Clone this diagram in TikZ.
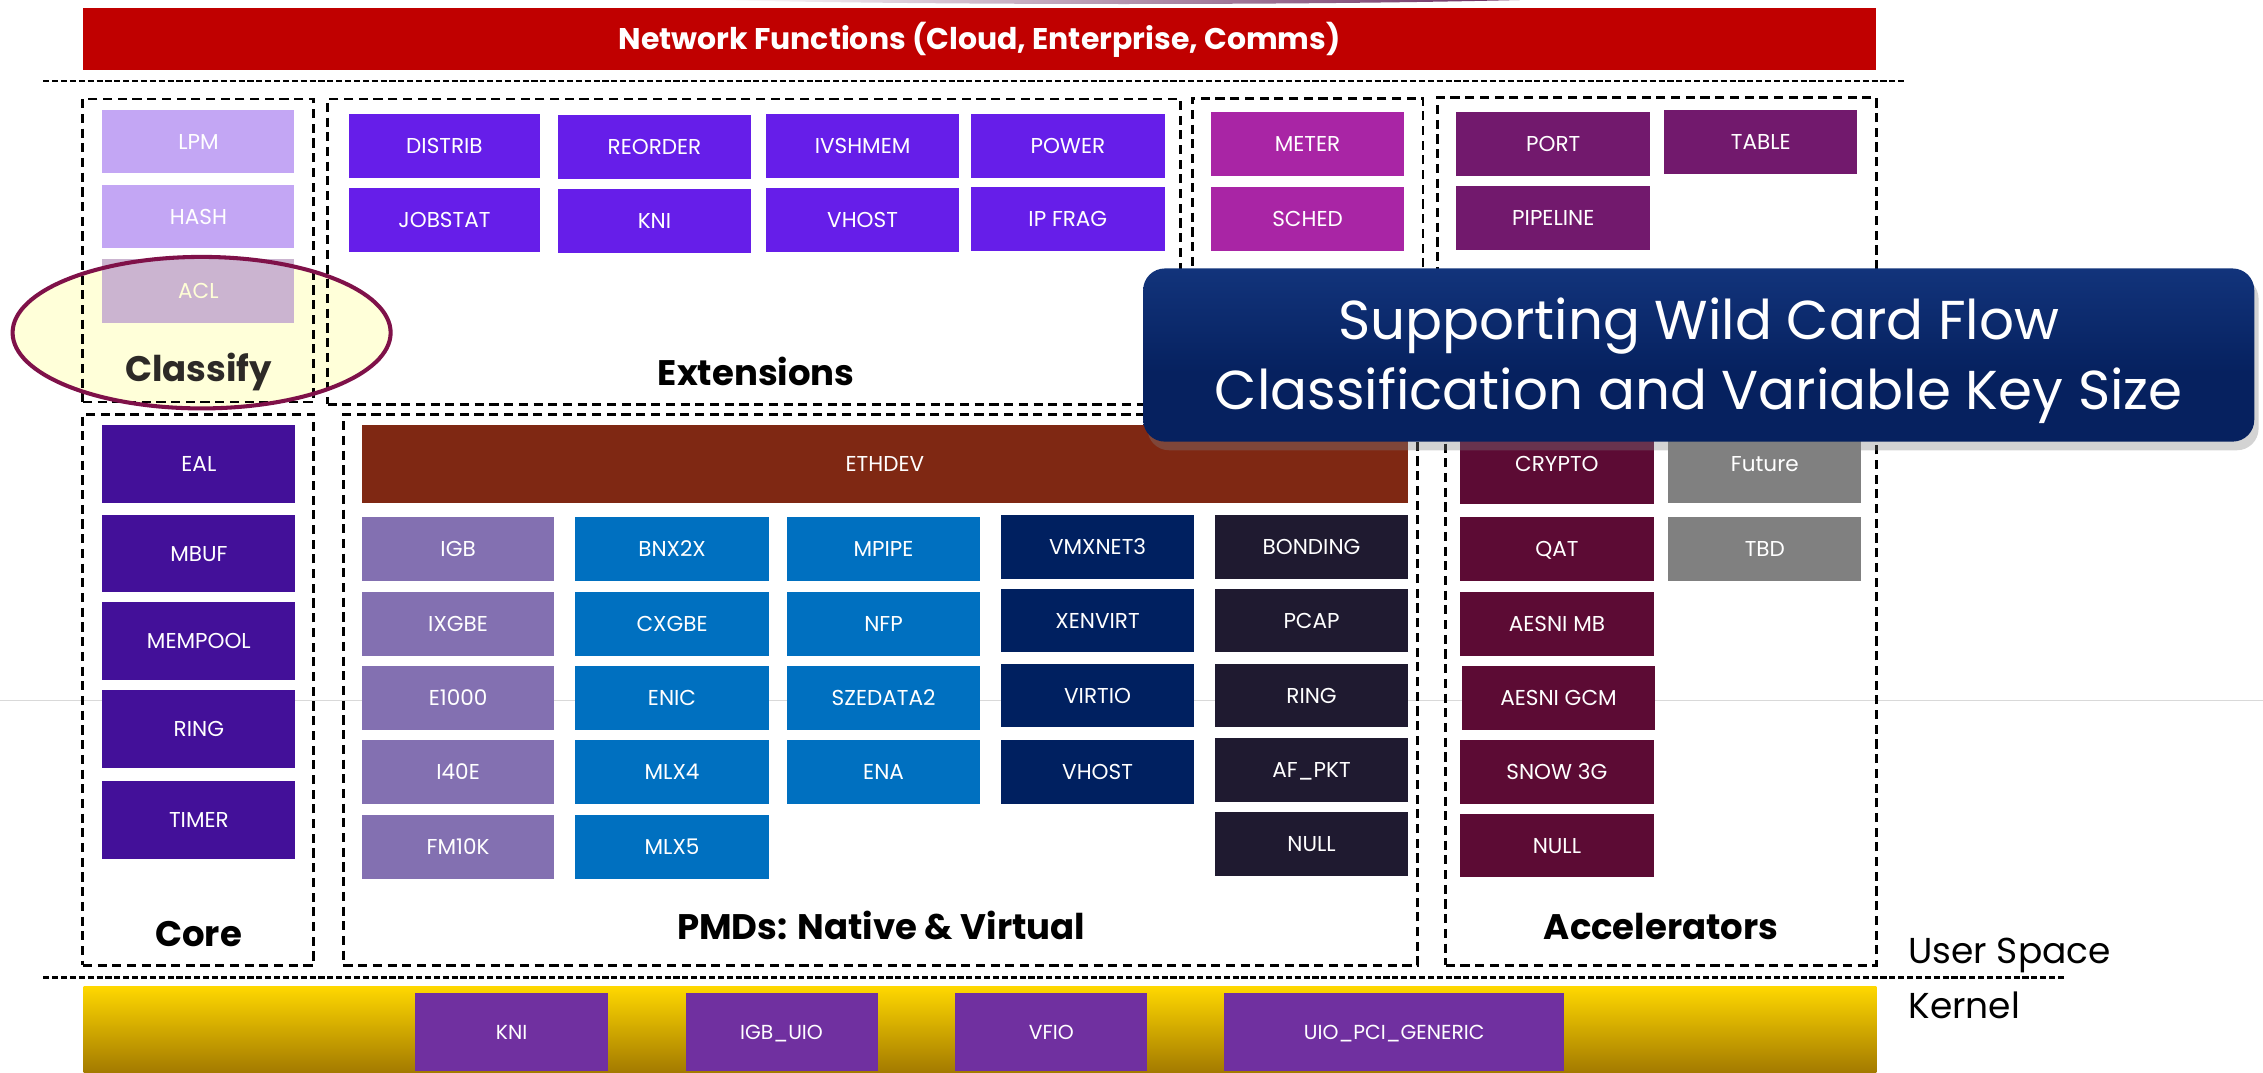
\documentclass[tikz,border=0pt]{standalone}
\usepackage{fontspec}
\setmainfont{Poppins}
\usetikzlibrary{shadows,shapes.geometric}
\definecolor{redC}{HTML}{C00000}
\definecolor{extC}{HTML}{661EE9}
\definecolor{lpmC}{HTML}{C3A6F4}
\definecolor{aclC}{HTML}{CBB4D0}
\definecolor{meterC}{HTML}{A925A5}
\definecolor{portC}{HTML}{72196D}
\definecolor{coreC}{HTML}{431099}
\definecolor{ethC}{HTML}{7F2813}
\definecolor{igbC}{HTML}{8370B1}
\definecolor{blueC}{HTML}{0070C0}
\definecolor{navyC}{HTML}{002060}
\definecolor{darkC}{HTML}{1F1A30}
\definecolor{accC}{HTML}{5C0B34}
\definecolor{grayC}{HTML}{808080}
\definecolor{kblkC}{HTML}{7030A0}
\definecolor{kTop}{HTML}{FFD800}
\definecolor{kBot}{HTML}{A37A00}
\definecolor{ellF}{HTML}{FFFFD9}
\definecolor{ellB}{HTML}{7F1149}
\definecolor{arcC}{HTML}{6B2C60}
\definecolor{cbTop}{HTML}{4468B0}
\definecolor{cbMid}{HTML}{143780}
\definecolor{cbBot}{HTML}{06215F}
\definecolor{aclT}{HTML}{FFFFD6}
\pgfdeclareverticalshading{callsh}{100bp}{color(0bp)=(cbBot); color(45bp)=(cbBot); color(80bp)=(cbMid); color(93bp)=(cbTop); color(100bp)=(cbTop)}
\tikzset{
  blk/.style={rectangle, inner sep=0pt, text=white, text height=6pt, text depth=0pt,
    font=\fontsize{8.5}{10}\selectfont},
  grpbox/.style={rectangle, inner sep=0pt, draw=black, line width=1.1pt, dash pattern=on 3.6pt off 2.2pt},
  sepline/.style={line width=0.9pt, dash pattern=on 2.4pt off 1.1pt},
  grplabel/.style={inner sep=0pt, anchor=base, font=\bfseries\fontsize{14}{16}\selectfont, text=black},
  sidelabel/.style={inner sep=0pt, anchor=base west, font=\fontsize{14.2}{17}\selectfont, text=black},
  kblk/.style={fill=kblkC, font=\fontsize{8}{10}\selectfont},
}
\newcommand\blk[7]{%
  \pgfmathsetmacro\blkw{(#4-#2)*0.02}%
  \pgfmathsetmacro\blkh{(#5-#3)*0.02}%
  \node[blk, #6, minimum width=\blkw cm, minimum height=\blkh cm] (#1) at ({(#2+#4)/2},{(#3+#5)/2}) {#7};}
\newcommand\grp[5]{%
  \pgfmathsetmacro\blkw{(#4-#2)*0.02}%
  \pgfmathsetmacro\blkh{(#5-#3)*0.02}%
  \node[grpbox, minimum width=\blkw cm, minimum height=\blkh cm] (#1) at ({(#2+#4)/2},{(#3+#5)/2}) {};}
\begin{document}
\begin{tikzpicture}[x=0.02cm, y=-0.02cm]
\useasboundingbox (0,0) rectangle (1568,743);
% faint slide guide line
\draw[black!15, line width=0.5pt] (0,485.5) -- (1568,485.5);
% top arc sliver
\shade[left color=white, right color=arcC] (494,0) .. controls (650,3.6) and (900,3.8) .. (1053,0) -- cycle;
% highlight ellipse (fill)
\node[ellipse, fill=ellF, minimum width=5.24cm, minimum height=2.1cm, inner sep=0pt] (hlbg) at (139.7,230.5) {};
% top bar
\blk{nf}{57.4}{5.5}{1300}{48.5}{fill=redC, font=\bfseries\fontsize{11.8}{14}\selectfont, text height=8.6pt}{Network Functions (Cloud, Enterprise, Comms)}
\draw[sepline] (30,56) -- (1320,56);
% groups
\grp{classifyG}{57.4}{68.6}{217.3}{278.6}
\grp{extG}{227}{68.6}{818}{280}
\grp{meterG}{826}{68}{986}{280}
\grp{portG}{996}{67.7}{1300}{280}
\grp{coreG}{57.4}{287}{217.3}{668.7}
\grp{pmdG}{238}{287}{982.2}{668.7}
\grp{accG}{1001.7}{287}{1300}{668.7}
% classify
\blk{lpm}{71}{76}{204}{120}{fill=lpmC}{LPM}
\blk{hash}{71}{128}{204}{172}{fill=lpmC}{HASH}
\blk{acl}{71}{179.5}{204}{223.6}{fill=aclC, text=aclT}{ACL}
\node[grplabel, text=black!90!olive] (classifyL) at (137.6,264.5) {Classify};
% extensions
\blk{distrib}{241.6}{79}{374.3}{123.1}{fill=extC}{DISTRIB}
\blk{reorder}{386.4}{79.7}{520.6}{123.8}{fill=extC}{REORDER}
\blk{ivshmem}{530.8}{79}{664.5}{123.1}{fill=extC}{IVSHMEM}
\blk{power}{672.8}{79}{807}{123.1}{fill=extC}{POWER}
\blk{jobstat}{241.6}{130.3}{374.3}{174.4}{fill=extC}{JOBSTAT}
\blk{kniext}{386.4}{131}{520.6}{175}{fill=extC}{KNI}
\blk{vhostext}{530.8}{130.3}{664.5}{174.4}{fill=extC}{VHOST}
\blk{ipfrag}{672.8}{129.6}{807}{173.7}{fill=extC}{IP FRAG}
\node[grplabel] (extL) at (524,266.8) {Extensions};
\blk{meter}{839}{77.6}{973}{121.7}{fill=meterC}{METER}
\blk{sched}{839}{129.6}{973}{173.7}{fill=meterC}{SCHED}
\blk{port}{1009}{77.6}{1143.5}{121.7}{fill=portC}{PORT}
\blk{table}{1153}{76.2}{1287}{120.3}{fill=portC}{TABLE}
\blk{pipeline}{1009}{128.9}{1143.5}{173}{fill=portC}{PIPELINE}
% core
\blk{eal}{71}{294.5}{204.6}{348.2}{fill=coreC}{EAL}
\blk{mbuf}{71}{356.8}{204.6}{410.5}{fill=coreC}{MBUF}
\blk{mempool}{71}{417.2}{204.6}{470.9}{fill=coreC}{MEMPOOL}
\blk{ringcore}{71}{478.1}{204.6}{531.8}{fill=coreC}{RING}
\blk{timer}{71}{541.2}{204.6}{594.9}{fill=coreC}{TIMER}
\node[grplabel] (coreL) at (137.6,655.8) {Core};
% PMDs
\blk{ethdev}{250.8}{294.5}{975.5}{348.2}{fill=ethC}{ETHDEV}
\blk{igb}{250.8}{358.3}{384}{402.4}{fill=igbC}{IGB}
\blk{ixgbe}{250.8}{410.3}{384}{454.4}{fill=igbC}{IXGBE}
\blk{e1000}{250.8}{461.5}{384}{505.6}{fill=igbC}{E1000}
\blk{i40e}{250.8}{512.7}{384}{556.8}{fill=igbC}{I40E}
\blk{fm10k}{250.8}{564.7}{384}{608.8}{fill=igbC}{FM10K}
\blk{bnx2x}{398.6}{358.3}{532.7}{402.4}{fill=blueC}{BNX2X}
\blk{cxgbe}{398.6}{410.3}{532.7}{454.4}{fill=blueC}{CXGBE}
\blk{enic}{398.6}{461.5}{532.7}{505.6}{fill=blueC}{ENIC}
\blk{mlx4}{398.6}{512.7}{532.7}{556.8}{fill=blueC}{MLX4}
\blk{mlx5}{398.6}{564.7}{532.7}{608.8}{fill=blueC}{MLX5}
\blk{mpipe}{545.4}{358.3}{679}{402.4}{fill=blueC}{MPIPE}
\blk{nfp}{545.4}{410.3}{679}{454.4}{fill=blueC}{NFP}
\blk{szedata}{545.4}{461.5}{679}{505.6}{fill=blueC}{SZEDATA2}
\blk{ena}{545.4}{512.7}{679}{556.8}{fill=blueC}{ENA}
\blk{vmxnet}{693.6}{356.8}{827.4}{401}{fill=navyC}{VMXNET3}
\blk{xenvirt}{693.6}{408}{827.4}{452}{fill=navyC}{XENVIRT}
\blk{virtio}{693.6}{460}{827.4}{504}{fill=navyC}{VIRTIO}
\blk{vhostpmd}{693.6}{512.7}{827.4}{556.8}{fill=navyC}{VHOST}
\blk{bonding}{842}{356.8}{975.5}{401}{fill=darkC}{BONDING}
\blk{pcap}{842}{408}{975.5}{452}{fill=darkC}{PCAP}
\blk{ringpmd}{842}{460}{975.5}{504}{fill=darkC}{RING}
\blk{afpkt}{842}{511.3}{975.5}{555.6}{fill=darkC}{AF\_PKT}
\blk{nullpmd}{842}{562.7}{975.5}{606.8}{fill=darkC}{NULL}
\node[grplabel] (pmdL) at (610.5,650.8) {PMDs: Native \& Virtual};
% accelerators
\blk{crypto}{1011.5}{294.5}{1146}{349}{fill=accC}{CRYPTO}
\blk{future}{1156}{294.5}{1289.6}{348.2}{fill=grayC}{Future}
\blk{qat}{1011.5}{358.3}{1146}{402.4}{fill=accC}{QAT}
\blk{tbd}{1156}{358.3}{1289.6}{402.4}{fill=grayC}{TBD}
\blk{aesnimb}{1011.5}{410.3}{1146}{454.4}{fill=accC}{AESNI MB}
\blk{aesnigcm}{1013}{461.5}{1146.7}{505.6}{fill=accC}{AESNI GCM}
\blk{snow}{1011.5}{512.7}{1146}{556.8}{fill=accC}{SNOW 3G}
\blk{nullacc}{1011.5}{564}{1146}{608}{fill=accC}{NULL}
\node[grplabel] (accL) at (1151,650.8) {Accelerators};
% user space / kernel
\draw[sepline] (30,677.2) -- (1431,677.2);
\node[sidelabel] (userL) at (1322,667.4) {User Space};
\node[sidelabel] (kernL) at (1322,706) {Kernel};
\blk{kbar}{58}{683.2}{1300}{743}{top color=kTop, bottom color=kBot}{}
\blk{kkni}{287.6}{687.8}{421.3}{742}{kblk}{KNI}
\blk{kigb}{475}{687.8}{608}{742}{kblk}{IGB\_UIO}
\blk{kvfio}{662}{687.8}{795}{742}{kblk}{VFIO}
\blk{kuio}{848}{687.8}{1084}{742}{kblk}{UIO\_PCI\_GENERIC}
% highlight ellipse border
\node[ellipse, draw=ellB, line width=1.6pt, minimum width=5.24cm, minimum height=2.1cm, inner sep=0pt] (hl) at (139.7,230.5) {};
% callout
\node[rectangle, rounded corners=0.3cm, shading=callsh, minimum width=15.4cm, minimum height=2.4cm,
  drop shadow={opacity=0.35, shadow xshift=0.6mm, shadow yshift=-1.2mm}, inner sep=0pt] (callout) at (1177,246) {};
\node[text=white, align=center, inner sep=0pt, font=\fontsize{21.6}{27.6}\selectfont] (calloutT) at (1177,250)
  {Supporting Wild Card Flow\\Classification and Variable Key Size};
\end{tikzpicture}
\end{document}
